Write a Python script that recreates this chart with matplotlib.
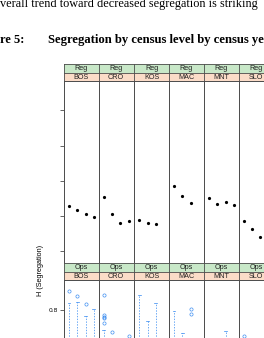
import numpy as np
import matplotlib
matplotlib.use('Agg')
import matplotlib.pyplot as plt

# image size in pixels (figure is a crop of a report page)
W, H = 264, 338

countries = ['BOS', 'CRO', 'KOS', 'MAC', 'MNT', 'SLO']
rows = ['Reg', 'Ops']

# census points, Reg level (H values)
reg_bos = [0.528, 0.516, 0.506, 0.496]
reg_cro = [0.555, 0.506, 0.481, 0.485]
reg_kos = [0.488, 0.479, 0.476]
reg_mac = [0.586, 0.556, 0.536]
reg_mnt = [0.552, 0.533, 0.541, 0.532]
reg_slo = [0.485, 0.462, 0.441]
reg_values = [reg_bos, reg_cro, reg_kos, reg_mac, reg_mnt, reg_slo]

# Ops level: box plot per census; only upper whiskers and outliers are visible
ops_whishi = [
    [0.819, 0.823, 0.783, 0.802],
    [0.742, 0.705, 0.700, 0.700],
    [0.842, 0.768, 0.819],
    [0.797, 0.735, 0.700],
    [0.690, 0.690, 0.740, 0.690],
    [0.700, 0.690, 0.680],
]
ops_fliers = [
    [[0.852], [0.840], [0.815], []],
    [[0.843, 0.785, 0.780, 0.776, 0.761], [0.738], [], [0.724]],
    [[], [], []],
    [[], [], [0.802, 0.788]],
    [[], [], [], []],
    [[0.726], [], []],
]
ops_q3 = 0.62
ops_med = 0.56
ops_q1 = 0.50
ops_whislo = 0.40

yticks = [0.4, 0.5, 0.6, 0.7, 0.8]
ylim = (0.3665, 0.8835)
xlim = (0.39, 4.6)

green = '#c8e8c8'
peach = '#fbdcc8'
edge = '#4a4a4a'
blue = '#2f86f0'


def rect(x0, y0, x1, y1):
    # pixel box (top-down) -> figure fraction
    return [x0 / W, 1 - y1 / H, (x1 - x0) / W, (y1 - y0) / H]


fig = plt.figure(figsize=(W / 100, H / 100), dpi=100)

# surrounding report text
fig.text(0 / W, 1 - 7.5 / H, 'verall trend toward decreased segregation is striking',
         family='Liberation Serif', fontsize=8.85, va='baseline', ha='left')
fig.text(0 / W, 1 - 42.7 / H, 're 5:', family='Liberation Serif', fontsize=9.0,
         weight='bold', va='baseline', ha='left')
fig.text(48 / W, 1 - 42.7 / H, 'Segregation by census level by census ye',
         family='Liberation Serif', fontsize=9.1, weight='bold', va='baseline', ha='left')

lefts = [64, 98.7, 134.3, 169, 204, 238.7]
pw = 34.8
row_tops = [64, 263.3]
strip_h = 8.5
panel_h = 182

for r, level in enumerate(rows):
    top = row_tops[r]
    for c, ctry in enumerate(countries):
        x0 = lefts[c]
        # two strips: outer variable (green) above country (peach)
        for k, (lab, col) in enumerate([(level, green), (ctry, peach)]):
            sy = top + k * strip_h
            sax = fig.add_axes(rect(x0, sy, x0 + pw, sy + strip_h))
            sax.set_facecolor(col)
            sax.set_xticks([])
            sax.set_yticks([])
            for sp in sax.spines.values():
                sp.set_color(edge)
                sp.set_linewidth(0.6)
            sax.text(0.5, 0.45, lab, transform=sax.transAxes, ha='center', va='center',
                     family='Liberation Sans', fontsize=5.2, color='#222222')

        py0 = top + 2 * strip_h
        ax = fig.add_axes(rect(x0, py0, x0 + pw, py0 + panel_h))
        ax.set_xlim(*xlim)
        ax.set_ylim(*ylim)
        for sp in ax.spines.values():
            sp.set_color(edge)
            sp.set_linewidth(0.7)
        ax.set_xticks([])
        if c == 0:
            if r == 0:
                ax.set_yticks(yticks)
                ax.set_yticklabels([])
            else:
                # lower ticks fall below the crop
                ax.set_yticks(yticks[-1:])
            ax.tick_params(axis='y', length=2.9, width=0.6, color=edge, pad=1.6,
                           labelsize=4.3)
        else:
            ax.set_yticks([])

        if level == 'Reg':
            vals = reg_values[c]
            ax.plot(np.arange(1, len(vals) + 1), vals, 'o', color='black', ms=2.3,
                    mec='none')
        else:
            his = ops_whishi[c]
            stats = []
            for i, hi in enumerate(his):
                stats.append(dict(whishi=hi, q3=ops_q3, med=ops_med, q1=ops_q1,
                                  whislo=ops_whislo, fliers=ops_fliers[c][i]))
            ax.bxp(stats, positions=np.arange(1, len(his) + 1), widths=0.7,
                   showfliers=True, manage_ticks=False, capwidths=0.35,
                   boxprops=dict(color=blue, lw=0.5),
                   medianprops=dict(color=blue, lw=0.5),
                   whiskerprops=dict(color=blue, lw=0.5, linestyle=(0, (2.0, 2.0))),
                   capprops=dict(color=blue, lw=0.5),
                   flierprops=dict(marker='o', mfc='none', mec=blue, ms=2.3, mew=0.45))
            ax.set_xlim(*xlim)
            ax.set_ylim(*ylim)

fig.text(40 / W, 1 - 270 / H, 'H (Segregation)', rotation=90, ha='center', va='center',
         family='Liberation Sans', fontsize=5.2)

fig.savefig('out.png', dpi=100)
